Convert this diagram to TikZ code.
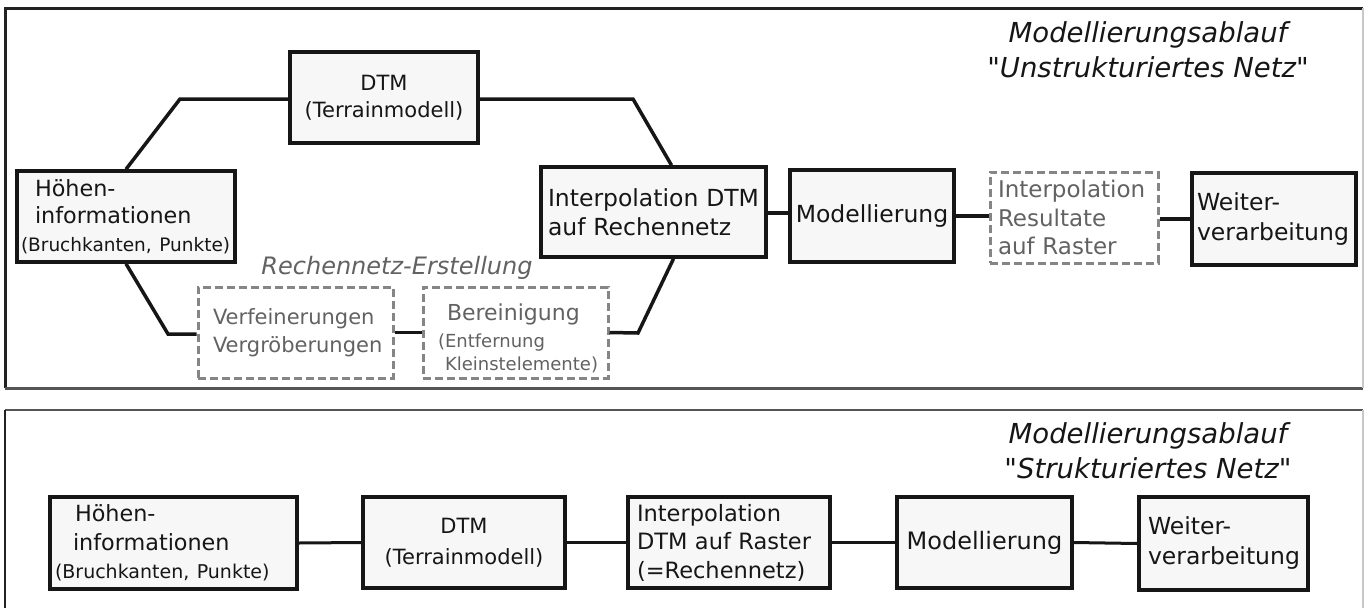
\documentclass[tikz,border=0pt]{standalone}
\usepackage{fontspec}
\setmainfont{DejaVu Sans}[Ligatures=TeXOff]
\usetikzlibrary{calc}
\hyphenpenalty=10000
\exhyphenpenalty=10000
\newcommand{\fsz}[2]{\fontsize{#1}{#2}\selectfont}

\definecolor{ink}{HTML}{161616}
\definecolor{boxfill}{HTML}{F7F7F7}
\definecolor{dashgray}{HTML}{858585}
\definecolor{softtext}{HTML}{626262}
\definecolor{framedark}{HTML}{222222}
\definecolor{framemid}{HTML}{555555}
\definecolor{framelight}{HTML}{C8C8C8}

\tikzset{
  box/.style={draw=ink, line width=3.5pt, fill=boxfill, text=ink,
    inner sep=0pt, align=center},
  leftbox/.style={box, inner xsep=4pt, align=left},
  dbox/.style={draw=dashgray, line width=3pt, dash pattern=on 8pt off 4pt,
    fill=white, text=softtext, inner sep=0pt, inner xsep=4pt, align=left},
  conn/.style={draw=ink, line width=3.5pt},
  connb/.style={draw=ink, line width=3pt},
  title/.style={font=\itshape\fsz{27.5}{35}, text=ink, align=center, inner sep=0pt},
}

\begin{document}
\begin{tikzpicture}[x=1pt,y=-1pt]
\useasboundingbox (0,0) rectangle (1365,608);

% panel frames
\draw[line width=3pt, framedark] (5,388) -- (5,8) -- (1363,8);
\draw[line width=3pt, framemid] (5,388) -- (1363,388);
\draw[line width=1.5pt, framelight] (1363,8) -- (1363,388);
\draw[line width=2.5pt, framemid] (5,410) -- (1363,410);
\draw[line width=2.5pt, framedark] (5,410) -- (5,608);
\draw[line width=1.5pt, framelight] (1363,410) -- (1363,608);

% ---- unstructured mesh workflow ----
\node[title] (t1) at (1148,49.5) {Modellierungsablauf\\"Unstrukturiertes Netz"};

\node[leftbox, minimum width=218pt, minimum height=91pt, text width=210pt,
  font=\fsz{22.3}{27.5}] (h1) at (126,216.5)
  {\hspace*{14pt}Höhen-\\\hspace*{14pt}informationen\\{\fsz{18.5}{27.5}(Bruchkanten,~Punkte)}};

\node[box, minimum width=188pt, minimum height=91pt, font=\fsz{21}{27}]
  (dtm1) at (384,97.5) {DTM\\(Terrainmodell)};

\node[leftbox, minimum width=225pt, minimum height=90pt, text width=217pt,
  font=\fsz{23.5}{29}] (ip1) at (653.5,212)
  {\hspace*{3pt}Interpolation~DTM\\\hspace*{3pt}auf~Rechennetz};

\node[box, minimum width=164pt, minimum height=92pt, font=\fsz{23.5}{29}]
  (mod1) at (872,216) {Modellierung};

\node[dbox, minimum width=168pt, minimum height=91pt, text width=160pt,
  font=\fsz{23}{28.5}] (res1) at (1074,217.5)
  {\hspace*{4pt}Interpolation\\\hspace*{4pt}Resultate\\\hspace*{4pt}auf~Raster};

\node[leftbox, minimum width=164pt, minimum height=92pt, text width=156pt,
  font=\fsz{23.5}{30}] (wv1) at (1274,219)
  {\hspace*{1pt}Weiter-\\\hspace*{1pt}verarbeitung};

\node[font=\itshape\fsz{24}{28}, text=softtext, inner sep=0pt]
  (rn) at (397,268) {Rechennetz-Erstellung};

\node[dbox, minimum width=195pt, minimum height=91pt, text width=187pt,
  font=\fsz{21}{28}] (vf) at (295.5,332.5)
  {\hspace*{11pt}Verfeinerungen\\\hspace*{11pt}Vergröberungen};

\node[dbox, minimum width=185pt, minimum height=91pt, text width=177pt,
  font=\fsz{18}{23}] (br) at (515.5,332.5)
  {\rule{0pt}{29pt}\hspace*{20pt}{\fsz{22}{27}Bereinigung}\\[4pt]\hspace*{11pt}(Entfernung\\\hspace*{18pt}Kleinstelemente)};

% bends of the branching paths
\coordinate (k1) at (180,99);
\coordinate (k2) at (633,99);
\coordinate (k3) at (168,334);
\coordinate (k4) at (638,333);

\draw[conn, line join=miter] (h1.north) -- (k1) -- (k1 -| dtm1.west);
\draw[conn, line join=miter] (k2 -| dtm1.east) -- (k2) -- ([xshift=18pt]ip1.north);
\draw[conn, line join=miter] (h1.south) -- (k3) -- (k3 -| vf.west);
\draw[conn] (vf.east) -- (br.west);
\draw[conn, line join=miter] (br.east) -- (k4) -- ([xshift=20pt]ip1.south);
\draw[conn] ([yshift=-1pt]ip1.east) -- ([yshift=-1pt]ip1.east -| mod1.west);
\draw[conn] (mod1.east) -- (mod1.east -| res1.west);
\draw[conn] (wv1.west -| res1.east) -- (wv1.west);

% ---- structured mesh workflow ----
\node[title] (t2) at (1148,450.5) {Modellierungsablauf\\"Strukturiertes Netz"};

\node[leftbox, minimum width=247pt, minimum height=92pt, text width=239pt,
  font=\fsz{22.3}{28.5}] (h2) at (173.5,543)
  {\hspace*{21pt}Höhen-\\\hspace*{19pt}informationen\\\hspace*{1pt}{\fsz{19}{28.5}(Bruchkanten,~Punkte)}};

\node[box, minimum width=202pt, minimum height=91pt, font=\fsz{21}{31}]
  (dtm2) at (464,542.5) {DTM\\(Terrainmodell)};

\node[leftbox, minimum width=202pt, minimum height=91pt, text width=194pt,
  font=\fsz{22.5}{28.5}] (ip2) at (729,542.5)
  {\hspace*{5pt}Interpolation\\\hspace*{5pt}DTM~auf~Raster\\\hspace*{5pt}(=Rechennetz)};

\node[box, minimum width=175pt, minimum height=91pt, font=\fsz{24}{29}]
  (mod2) at (984.5,542.5) {Modellierung};

\node[leftbox, minimum width=169pt, minimum height=93pt, text width=161pt,
  font=\fsz{23.5}{30}] (wv2) at (1223.5,543.5)
  {\hspace*{5pt}Weiter-\\\hspace*{5pt}verarbeitung};

\draw[connb] (h2.east) -- (dtm2.west);
\draw[connb] (dtm2.east) -- (ip2.west);
\draw[connb] (ip2.east) -- (mod2.west);
\draw[connb] (mod2.east) -- (wv2.west);

\end{tikzpicture}
\end{document}
